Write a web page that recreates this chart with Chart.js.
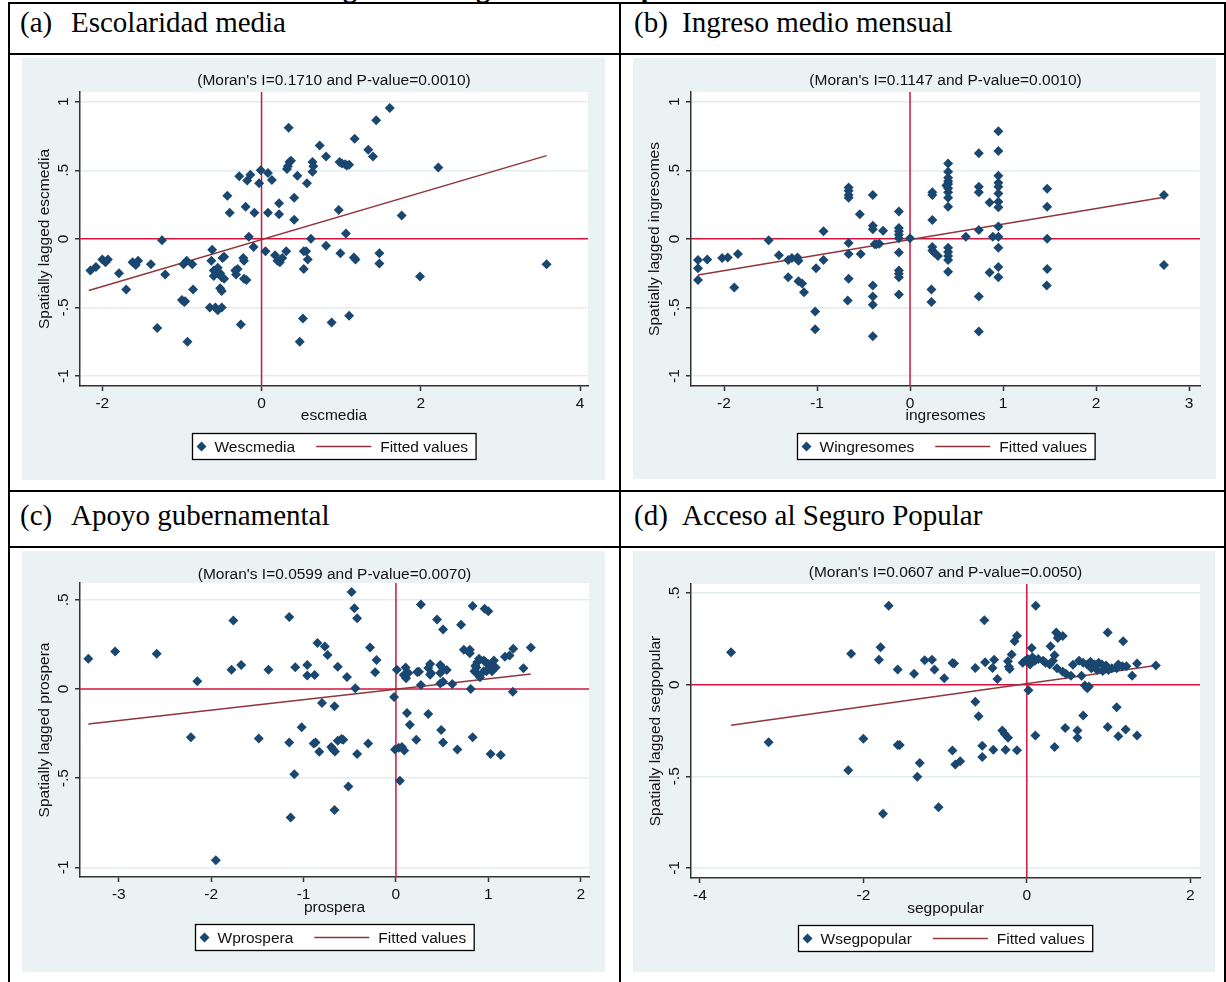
<!DOCTYPE html>
<html>
<head>
<meta charset="utf-8">
<script src="https://cdn.jsdelivr.net/npm/chart.js@4.4.0/dist/chart.umd.min.js"></script>
<style>
  body { margin: 0; background: #fff; width: 1226px; height: 982px; position: relative; overflow: hidden; }
  .ln { position: absolute; background: #000; }
  .hd { position: absolute; font: 29px "Liberation Serif", "Times New Roman", serif; line-height: 28px; color: #000; white-space: nowrap; }
  .cut { position: absolute; font: bold 28px "Liberation Serif", serif; line-height: 28px; white-space: nowrap; }
  canvas { position: absolute; background: #eaf2f3; }
</style>
</head>
<body>
<div class="cut" style="left:318px;top:-26px">Figura 1. Diagramas de dispersión de Moran</div>

<div class="ln" style="left:8px;top:2px;width:1218px;height:2px"></div>
<div class="ln" style="left:8px;top:53px;width:1218px;height:2px"></div>
<div class="ln" style="left:8px;top:490px;width:1218px;height:2px"></div>
<div class="ln" style="left:8px;top:546px;width:1218px;height:2px"></div>
<div class="ln" style="left:8px;top:2px;width:2px;height:980px"></div>
<div class="ln" style="left:619px;top:2px;width:2px;height:980px"></div>
<div class="ln" style="left:1224px;top:2px;width:2px;height:980px"></div>

<div class="hd" style="left:20px;top:8px">(a)</div>
<div class="hd" style="left:71px;top:8px">Escolaridad media</div>
<div class="hd" style="left:634px;top:8px">(b)</div>
<div class="hd" style="left:682px;top:8px">Ingreso medio mensual</div>
<div class="hd" style="left:20px;top:501px">(c)</div>
<div class="hd" style="left:71px;top:501px">Apoyo gubernamental</div>
<div class="hd" style="left:634px;top:501px">(d)</div>
<div class="hd" style="left:682px;top:501px">Acceso al Seguro Popular</div>

<canvas id="cA" width="583" height="422" style="left:22px;top:58px"></canvas>
<canvas id="cB" width="583" height="421" style="left:633px;top:58px"></canvas>
<canvas id="cC" width="583" height="421" style="left:22px;top:551px"></canvas>
<canvas id="cD" width="582" height="421" style="left:633px;top:551px"></canvas>

<script>
// (a) escmedia
const escX = [0.34,-2.15,-2.08,-2.00,-1.96,-1.93,-1.79,-1.62,-1.58,-1.55,-1.39,-1.25,-1.21,-0.98,-0.94,-0.87,-0.62,-0.63,-0.60,-0.55,-0.52,-0.50,-0.43,-0.40,-0.28,-0.18,-0.14,-0.20,-0.09,-0.03,-0.01,-0.16,-0.10,-0.33,-0.32,-0.23,-0.22,0.05,0.08,0.13,0.08,0.17,0.20,0.23,0.26,0.22,0.22,0.31,0.32,0.35,0.37,0.33,0.45,0.41,0.41,0.57,0.53,0.56,0.58,0.62,0.53,0.64,0.65,0.64,0.73,0.81,0.98,1.01,1.05,1.07,1.10,1.17,1.34,1.40,1.44,1.61,2.22,0.97,1.76,1.06,0.81,0.99,1.16,1.18,1.48,1.48,1.99,3.58,-1.70,-0.86,-1.00,-0.97,-0.96,-1.31,-0.93,-0.60,-0.47,-0.49,-0.47,-0.52,-0.50,-0.65,-0.58,-0.55,-0.50,-0.30,-0.22,-0.19,-0.26,0.52,0.48,0.88,1.10];
const escY = [0.81,-0.23,-0.205,-0.15,-0.17,-0.15,-0.25,-0.17,-0.19,-0.16,-0.185,-0.01,-0.26,-0.185,-0.16,-0.185,-0.08,-0.16,-0.23,-0.21,-0.25,-0.28,0.315,0.19,0.456,0.425,0.467,0.235,0.19,0.405,0.50,0.015,-0.06,-0.23,-0.26,-0.14,-0.16,-0.09,0.48,0.43,0.19,-0.12,-0.16,-0.17,-0.14,0.26,0.18,-0.09,0.51,0.56,0.57,0.53,0.46,0.30,0.14,0.405,-0.09,-0.09,-0.15,0.0,-0.22,0.56,0.53,0.49,0.68,0.60,0.56,0.55,0.545,0.535,0.54,0.73,0.65,0.60,0.865,0.955,0.52,0.21,0.17,0.04,-0.05,-0.105,-0.135,-0.15,-0.105,-0.18,-0.275,-0.185,-0.37,-0.37,-0.445,-0.46,-0.455,-0.65,-0.75,-0.27,-0.29,-0.14,-0.13,-0.36,-0.38,-0.50,-0.50,-0.52,-0.50,-0.22,-0.29,-0.30,-0.625,-0.58,-0.75,-0.61,-0.56];
const escFitX = [-2.17, 3.58];
const escFitY = [-0.376, 0.607];
const escXRange = [-2.28, 4.10];
const escXTicks = [-2, 0, 2, 4];

// (b) ingresomes
const ingX = [-2.28,-2.28,-2.28,-2.18,-2.02,-1.96,-1.85,-1.89,-1.52,-1.41,-1.31,-1.27,-1.21,-1.20,-1.31,-1.20,-1.16,-1.14,-1.01,-1.02,-1.02,-0.93,-0.93,-0.66,-0.66,-0.66,-0.66,-0.66,-0.66,-0.66,-0.67,-0.54,-0.53,-0.40,-0.40,-0.40,-0.38,-0.36,-0.33,-0.40,-0.40,-0.40,-0.40,-0.29,-0.12,-0.12,-0.12,-0.12,-0.12,-0.12,-0.12,-0.12,-0.12,-0.12,0.00,0.24,0.24,0.24,0.24,0.24,0.26,0.30,0.23,0.23,0.41,0.41,0.41,0.41,0.41,0.41,0.41,0.41,0.41,0.39,0.41,0.41,0.41,0.41,0.41,0.60,0.74,0.74,0.74,0.74,0.74,0.74,0.855,0.89,0.95,0.95,0.95,0.95,0.95,0.95,0.95,0.95,0.95,0.95,0.95,0.95,0.855,0.95,1.475,1.475,1.475,1.475,1.47,2.73,2.73];
const ingY = [-0.155,-0.215,-0.30,-0.15,-0.14,-0.135,-0.11,-0.355,-0.01,-0.12,-0.155,-0.14,-0.135,-0.16,-0.28,-0.31,-0.325,-0.39,-0.215,-0.53,-0.66,0.055,-0.155,0.375,0.35,0.32,0.30,-0.03,-0.11,-0.29,-0.45,0.18,-0.11,0.32,0.095,0.07,-0.04,-0.04,-0.035,-0.34,-0.42,-0.48,-0.71,0.06,0.20,0.08,0.055,0.03,0.005,-0.10,-0.23,-0.255,-0.28,-0.405,0.005,0.34,0.32,0.137,-0.06,-0.085,-0.10,-0.125,-0.37,-0.46,0.55,0.49,0.445,0.42,0.40,0.37,0.34,0.30,0.235,0.39,-0.065,-0.095,-0.125,-0.155,-0.24,0.015,0.625,0.38,0.34,0.065,-0.42,-0.675,0.265,0.015,0.015,0.785,0.64,0.46,0.41,0.38,0.33,0.27,0.23,0.09,-0.065,-0.205,-0.245,-0.28,0.365,0.235,0.0,-0.22,-0.34,0.32,-0.19];
const ingFitX = [-2.28, 2.73];
const ingFitY = [-0.264, 0.303];
const ingXRange = [-2.355, 3.118];
const ingXTicks = [-2, -1, 0, 1, 2, 3];

// (c) prospera
const proX = [-3.33,-3.04,-2.59,-2.15,-2.22,-1.76,-1.78,-1.675,-1.485,-1.38,-1.155,-1.09,-1.155,-1.02,-0.96,-0.96,-0.88,-0.89,-0.87,-0.85,-0.77,-0.74,-0.80,-0.83,-0.70,-0.68,-0.66,-0.63,-0.665,-0.63,-0.59,-0.57,-0.53,-0.48,-0.45,-0.42,-0.44,-0.42,-0.30,-0.28,-0.21,-0.225,-0.02,0.01,-0.01,0.03,0.065,0.09,0.085,0.105,0.11,0.135,0.12,0.15,0.22,0.23,0.25,0.27,0.27,0.35,0.37,0.38,0.37,0.35,0.445,0.51,0.48,0.50,0.48,0.51,0.48,0.55,0.49,0.51,0.61,0.665,0.705,0.735,0.81,0.80,0.80,0.83,0.83,0.85,0.87,0.88,0.86,0.87,0.90,0.91,0.96,1.00,0.95,0.97,1.00,1.04,1.08,1.00,0.98,1.04,0.95,1.06,1.025,1.135,1.18,1.23,1.27,1.265,1.38,1.46,-1.10,-0.515,-0.665,-1.14,0.043,-1.95];
const proY = [0.17,0.21,0.197,0.043,-0.27,0.384,0.108,0.135,-0.277,0.108,0.403,0.122,-0.30,-0.215,0.075,0.135,0.079,-0.305,-0.30,0.257,0.238,0.19,-0.079,-0.352,-0.325,-0.34,-0.35,0.124,-0.097,-0.29,-0.28,-0.285,0.067,0.543,0.453,0.397,0.004,-0.365,-0.305,0.232,0.163,0.094,-0.045,0.108,-0.34,-0.33,-0.325,-0.345,0.079,0.12,0.06,0.09,-0.135,-0.20,-0.285,0.095,0.097,0.474,0.022,0.117,0.14,0.09,0.08,-0.14,0.39,0.333,0.135,0.12,0.09,0.04,0.03,0.107,-0.23,-0.30,0.028,-0.34,0.36,0.22,0.0,0.20,0.22,0.465,-0.27,0.10,0.12,0.15,0.13,0.09,0.17,0.066,0.45,0.435,0.16,0.15,0.14,0.13,0.12,0.11,0.10,0.10,0.10,0.16,-0.365,-0.37,0.18,0.187,0.225,-0.015,0.116,0.232,-0.478,-0.547,-0.678,-0.72,-0.515,-0.96];
const proFitX = [-3.33, 1.46];
const proFitY = [-0.197, 0.084];
const proXRange = [-3.42, 2.09];
const proXTicks = [-3, -2, -1, 0, 1, 2];

// (d) segpopular
const segX = [-3.62,-3.16,-2.15,-2.00,-1.81,-1.79,-1.69,-1.58,-1.58,-1.555,-1.38,-1.31,-1.25,-1.16,-1.13,-1.01,-0.91,-0.91,-0.89,-0.875,-0.815,-0.63,-0.63,-0.59,-0.545,-0.545,-0.52,-0.51,-0.42,-0.40,-0.36,-0.41,-0.30,-0.27,-0.23,-0.26,-0.23,-0.22,-0.21,-0.185,-0.15,-0.12,-0.12,-0.05,-0.02,0.01,0.04,0.07,0.10,0.14,0.06,0.11,0.02,0.105,0.20,0.23,0.28,0.32,0.34,0.29,0.34,0.36,0.39,0.38,0.44,0.37,0.44,0.48,0.47,0.54,0.565,0.62,0.62,0.67,0.69,0.64,0.69,0.74,0.78,0.83,0.88,0.92,0.97,0.71,0.74,0.76,0.79,0.86,0.93,1.00,1.04,0.97,0.99,0.99,1.10,1.12,1.17,1.22,1.10,1.12,1.18,1.21,1.29,1.35,1.35,1.58,-2.185,-1.34,-1.76,-1.08];
const segY = [0.176,-0.315,0.169,-0.295,0.136,0.204,0.431,0.082,-0.33,-0.33,0.06,-0.427,0.133,0.136,0.082,0.035,-0.36,0.118,0.115,-0.436,-0.418,0.091,-0.093,-0.173,-0.333,-0.395,0.351,0.122,0.091,0.136,0.031,-0.355,-0.25,-0.27,-0.29,-0.355,0.127,0.098,0.085,0.164,0.236,0.267,-0.358,0.12,0.13,0.14,0.11,0.15,0.13,0.14,0.20,0.431,-0.031,-0.278,0.13,0.12,0.11,0.13,0.16,0.21,-0.34,0.285,0.265,0.255,0.265,0.09,0.07,0.06,-0.236,0.049,0.109,-0.25,-0.29,0.049,-0.169,0.13,0.12,0.11,0.125,0.11,0.12,0.11,0.10,-0.005,-0.02,-0.01,0.09,0.08,0.075,0.08,0.09,0.105,0.285,-0.231,0.09,0.11,0.10,0.10,-0.124,-0.282,0.236,-0.245,0.049,0.115,-0.278,0.104,-0.467,-0.503,-0.704,-0.669];
const segFitX = [-3.62, 1.58];
const segFitY = [-0.222, 0.104];
const segXRange = [-4.11, 2.12];
const segXTicks = [-4, -2, 0, 2];

const yTicksTop = [-1, -0.5, 0, 0.5, 1];
const yTicksBottom = [-1, -0.5, 0, 0.5];
const yRangeA = [-1.073, 1.071];
const yRangeB = [-1.073, 1.071];
const yRangeC = [-1.054, 0.594];
const yRangeD = [-1.055, 0.549];

const NAVY = '#1a476f';
const MAROON = '#90353b';
const REDLINE = '#d2143c';
const AXIS = '#333333';
const GRID = '#e3ecee';
const TXT = '#111111';
const FONT = '"Liberation Sans", Arial, sans-serif';
const FS = 15.5;

const stataNum = v => v === 0 ? '0' : String(v).replace(/^(-?)0\./, '$1.');

const stataDecor = {
  id: 'stataDecor',
  beforeDraw(chart) {
    const { ctx, chartArea: a } = chart;
    ctx.save();
    ctx.fillStyle = '#fff';
    ctx.fillRect(a.left, a.top, a.right - a.left, a.bottom - a.top);
    ctx.restore();
  },
  afterDraw(chart, args, o) {
    const { ctx, chartArea: a, scales: { y } } = chart;
    ctx.save();
    ctx.font = FS + 'px ' + FONT;
    ctx.fillStyle = TXT;
    ctx.textAlign = 'center';
    ctx.textBaseline = 'middle';
    // rotated y tick labels, stata style
    o.yTicks.forEach(v => {
      ctx.save();
      ctx.translate(a.left - 16.5, y.getPixelForValue(v));
      ctx.rotate(-Math.PI / 2);
      ctx.fillText(stataNum(v), 0, 0);
      ctx.restore();
    });
    // legend box
    const fitLabel = 'Fitted values';
    const w1 = ctx.measureText(o.label).width;
    const w2 = ctx.measureText(fitLabel).width;
    const bw = 22 + w1 + 21 + 55 + 9 + w2 + 8;
    const bh = 26;
    const bx = Math.round((a.left + a.right) / 2 - bw / 2) + 0.5;
    const by = Math.round(a.bottom + 47) + 0.5;
    ctx.fillStyle = '#fff';
    ctx.fillRect(bx, by, bw, bh);
    ctx.strokeStyle = '#000';
    ctx.lineWidth = 1.3;
    ctx.strokeRect(bx, by, bw, bh);
    const cy = by + bh / 2;
    ctx.fillStyle = NAVY;
    Chart.helpers.drawPoint(ctx, { pointStyle: 'rectRot', radius: 5, borderWidth: 0, rotation: 0 }, bx + 9, cy);
    ctx.fillStyle = TXT;
    ctx.textAlign = 'left';
    ctx.fillText(o.label, bx + 22, cy + 1);
    const lx = bx + 22 + w1 + 21;
    ctx.strokeStyle = MAROON;
    ctx.lineWidth = 1.5;
    ctx.beginPath();
    ctx.moveTo(lx, cy);
    ctx.lineTo(lx + 55, cy);
    ctx.stroke();
    ctx.fillText(fitLabel, lx + 55 + 9, cy + 1);
    ctx.restore();
  }
};

function buildPanel(id, d, box) {
  const canvas = document.getElementById(id);
  const w = canvas.width, h = canvas.height;
  const pts = d.xs.map((x, i) => ({ x: x, y: d.ys[i] }));
  const fit = d.fx.map((x, i) => ({ x: x, y: d.fy[i] }));
  const hRef = [{ x: d.xr[0], y: 0 }, { x: d.xr[1], y: 0 }];
  const vRef = [{ x: 0, y: d.yr[0] }, { x: 0, y: d.yr[1] }];
  const font = { family: FONT, size: FS, lineHeight: 1.2 };
  return new Chart(canvas, {
    type: 'scatter',
    data: {
      datasets: [
        { data: pts, pointStyle: 'rectRot', pointRadius: 5, pointBackgroundColor: NAVY, pointBorderWidth: 0, order: 0 },
        { data: fit, showLine: true, borderColor: MAROON, borderWidth: 1.5, pointRadius: 0, order: 1 },
        { data: hRef, showLine: true, borderColor: REDLINE, borderWidth: 1.5, pointRadius: 0, order: 2 },
        { data: vRef, showLine: true, borderColor: REDLINE, borderWidth: 1.5, pointRadius: 0, order: 2 }
      ]
    },
    options: {
      responsive: false,
      animation: false,
      events: [],
      layout: { padding: { left: 0, top: 0, right: w - box.r, bottom: h - box.b - 42 } },
      plugins: {
        legend: { display: false },
        tooltip: { enabled: false },
        title: {
          display: true,
          fullSize: false,
          text: d.title,
          color: TXT,
          font: { family: FONT, size: FS, weight: 'normal', lineHeight: 1 },
          padding: { top: box.titleY - FS / 2, bottom: box.t - box.titleY - FS / 2 }
        },
        stataDecor: { yTicks: d.yt, label: d.label }
      },
      scales: {
        x: {
          type: 'linear',
          min: d.xr[0],
          max: d.xr[1],
          afterFit: s => { s.height = 42; },
          afterBuildTicks: s => { s.ticks = d.xt.map(v => ({ value: v })); },
          grid: { drawOnChartArea: false, tickLength: 5, tickColor: AXIS, tickWidth: 1.5 },
          border: { color: AXIS, width: 1.5 },
          ticks: { color: TXT, font: font, padding: 3.7, maxRotation: 0, callback: v => stataNum(v) },
          title: { display: true, text: d.xTitle, color: TXT, font: font, padding: { top: 0, bottom: 42 - box.xTitleY - 9.3 } }
        },
        y: {
          type: 'linear',
          min: d.yr[0],
          max: d.yr[1],
          afterFit: s => { s.width = box.l; },
          afterBuildTicks: s => { s.ticks = d.yt.map(v => ({ value: v })); },
          grid: {
            color: c => (c.tick && c.tick.value === 0) ? 'rgba(0,0,0,0)' : GRID,
            lineWidth: 1.5, tickLength: 5, tickColor: AXIS, tickWidth: 1.5
          },
          border: { color: AXIS, width: 1.5 },
          ticks: { display: false },
          title: { display: true, text: d.yTitle, color: TXT, font: font, padding: { top: box.yTitleX - 9.3, bottom: 0 } }
        }
      }
    },
    plugins: [stataDecor]
  });
}

buildPanel('cA', {
  xs: escX, ys: escY, fx: escFitX, fy: escFitY, xr: escXRange, yr: yRangeA, xt: escXTicks, yt: yTicksTop,
  title: "(Moran's I=0.1710 and P-value=0.0010)", xTitle: 'escmedia', yTitle: 'Spatially lagged escmedia', label: 'Wescmedia'
}, { l: 58, r: 566, t: 34, b: 328, titleY: 22.5, xTitleY: 30, yTitleX: 23 });

buildPanel('cB', {
  xs: ingX, ys: ingY, fx: ingFitX, fy: ingFitY, xr: ingXRange, yr: yRangeB, xt: ingXTicks, yt: yTicksTop,
  title: "(Moran's I=0.1147 and P-value=0.0010)", xTitle: 'ingresomes', yTitle: 'Spatially lagged ingresomes', label: 'Wingresomes'
}, { l: 58, r: 567, t: 34, b: 328, titleY: 22.5, xTitleY: 30, yTitleX: 22 });

buildPanel('cC', {
  xs: proX, ys: proY, fx: proFitX, fy: proFitY, xr: proXRange, yr: yRangeC, xt: proXTicks, yt: yTicksBottom,
  title: "(Moran's I=0.0599 and P-value=0.0070)", xTitle: 'prospera', yTitle: 'Spatially lagged prospera', label: 'Wprospera'
}, { l: 58, r: 567, t: 32, b: 326, titleY: 24, xTitleY: 31, yTitleX: 23 });

buildPanel('cD', {
  xs: segX, ys: segY, fx: segFitX, fy: segFitY, xr: segXRange, yr: yRangeD, xt: segXTicks, yt: yTicksBottom,
  title: "(Moran's I=0.0607 and P-value=0.0050)", xTitle: 'segpopular', yTitle: 'Spatially lagged segpopular', label: 'Wsegpopular'
}, { l: 58, r: 567, t: 33, b: 327, titleY: 22, xTitleY: 31, yTitleX: 23 });
</script>
</body>
</html>
